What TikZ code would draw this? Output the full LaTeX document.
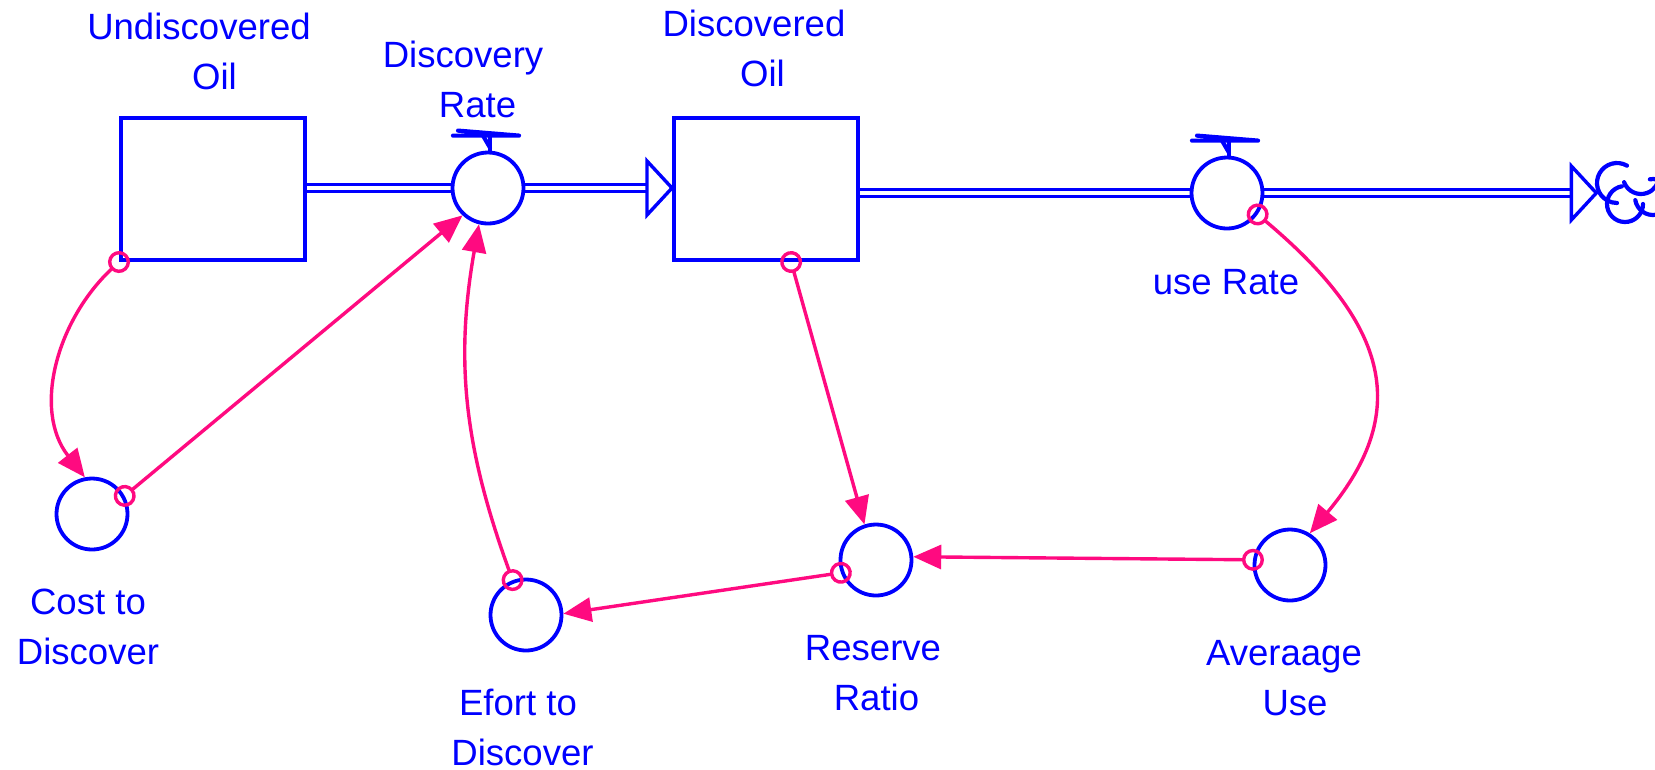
\documentclass[tikz,border=0pt]{standalone}
\usepackage{fontspec}
\setmainfont{Liberation Sans}
\usetikzlibrary{arrows.meta,backgrounds}
\definecolor{stockblue}{HTML}{0000FF}
\definecolor{linkpink}{HTML}{FF0A80}

\begin{document}
\begin{tikzpicture}[x=0.1mm,y=0.1mm,
 stock/.style={draw=stockblue,line width=0.4mm,minimum width=18.4mm,minimum height=14.2mm,inner sep=0},
 aux/.style={circle,draw=stockblue,line width=0.38mm,minimum size=7.1mm,inner sep=0},
 pipe/.style={draw=stockblue,line width=0.32mm,double=white,double distance=0.36mm},
 flowtip/.style={draw=stockblue,fill=white,line width=0.34mm},
 tap/.style={draw=stockblue,line width=0.42mm,line cap=round,line join=round},
 link/.style={draw=linkpink,line width=0.34mm,shorten <=-1.1mm,
 {Circle[open,length=2.2mm]}-{Triangle[length=2.8mm,width=2.4mm]}},
 lbl/.style={text=stockblue,align=center,anchor=base,inner sep=0,
 font=\fontsize{10.4}{14.2}\selectfont}]
\useasboundingbox (0,0) rectangle (1655,-769);
% stocks, rates and auxiliaries
\node[stock] (uo) at (213,-189) {};
\node[stock] (do) at (766,-189) {};
\node[aux] (dr) at (488,-188) {};
\node[aux] (ur) at (1227,-193) {};
\node[inner sep=0,minimum size=6.2mm] (sink) at (1628,-191) {};
\node[aux] (cost) at (92,-514) {};
\node[aux] (ef) at (526,-615) {};
\node[aux] (rr) at (876,-560) {};
\node[aux] (au) at (1290,-565) {};
% names
\node[lbl] (uoL) at (199,-89) {Undiscovered\\\hspace*{3.1mm}Oil};
\node[lbl] (drL) at (463,-117) {Discovery\\\hspace*{2.9mm}Rate};
\node[lbl] (doL) at (754,-86) {Discovered\\\hspace*{1.7mm}Oil};
\node[lbl] (urL) at (1226,-294) {use Rate};
\node[lbl] (costL) at (88,-664) {Cost to\\Discover};
\node[lbl] (efL) at (518,-765) {Efort to\\\hspace*{0.9mm}Discover};
\node[lbl] (rrL) at (873,-710) {Reserve\\\hspace*{0.7mm}Ratio};
\node[lbl] (auL) at (1284,-715) {Averaage\\\hspace*{2.2mm}Use};
% flows
\begin{scope}[on background layer]
\fill[white] (0,0) rectangle (1655,-769);
\draw[pipe] (dr.west -| uo.east) -- (dr.west);
\coordinate (inTip) at (dr.east -| do.west);
\draw[pipe] (dr.east) -- ([xshift=-2.5mm]inTip);
\draw[pipe] (ur.west -| do.east) -- (ur.west);
\coordinate (outTip) at (ur.east -| sink.west);
\draw[pipe] (ur.east) -- ([xshift=-2.5mm]outTip);
\end{scope}
\draw[flowtip] (inTip) -- ++(-25,27) -- ++(0,-54) -- cycle;
\draw[flowtip] (outTip) -- ++(-25,27) -- ++(0,-54) -- cycle;
\foreach \v in {dr,ur} {
 \draw[tap] ([xshift=0.2mm]\v.north) -- ++(0,14);
 \draw[tap] ([shift={(-35,15)}]\v.north) -- ++(66,0) -- ++(-61,5);
 \draw[tap] ([shift={(-5,15)}]\v.north) -- ++(7,-12);
}
% cloud
\draw[tap] ([shift={(-1.1mm,0.8mm)}]sink.center) ++(60:2mm) arc[start angle=60,end angle=270,radius=2mm];
\draw[tap] ([shift={(1.3mm,1.5mm)}]sink.center) ++(200:1.8mm) arc[start angle=200,end angle=360,radius=1.8mm];
\draw[tap] ([shift={(-0.3mm,-1.3mm)}]sink.center) ++(100:1.8mm) arc[start angle=100,end angle=360,radius=1.8mm];
\draw[tap] ([shift={(2.5mm,-0.6mm)}]sink.center) ++(190:1.8mm) arc[start angle=190,end angle=460,radius=1.8mm];
% links
\draw[link] (uo.south west) to[out=223,in=128] (cost.101);
\draw[link] (cost.29) -- (dr.227);
\draw[link] (ef.111) to[out=110,in=260] (dr.256);
\draw[link] (do.-71) -- (rr.108);
\draw[link] (ur.-35) to[out=-40,in=50,looseness=1.3] (au.58);
\draw[link] (au.172) -- (rr.5);
\draw[link] (rr.200) -- (ef.2);
\end{tikzpicture}
\end{document}
